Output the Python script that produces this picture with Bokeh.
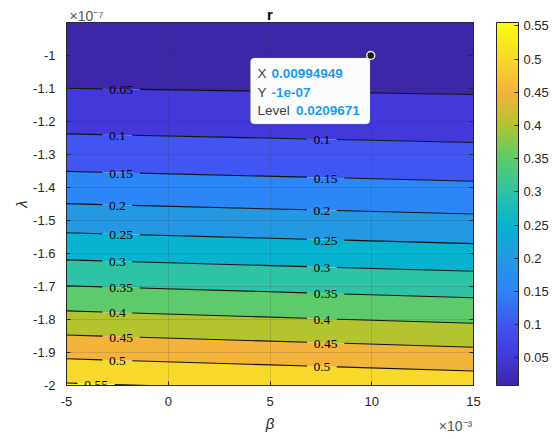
import numpy as np
from bokeh.plotting import figure
from bokeh.plotting.contour import contour_data
from bokeh.models import (ColorBar, LinearColorMapper, FixedTicker, LinearAxis, Range1d,
                          Label, LabelSet, BoxAnnotation, ColumnDataSource)
from bokeh.embed import file_html
from bokeh.resources import INLINE

# ---------------- data ----------------
beta_e3 = [-5.0, 15.0]                       # beta in units of 1e-3
lambda_e7 = [-2.0, -1.9, -1.8, -1.7, -1.6, -1.5, -1.4, -1.3, -1.2, -1.1, -1.0, -0.9]  # lambda in 1e-7
r_at_beta_min = [0.555, 0.487, 0.4171, 0.3513, 0.2877, 0.2276, 0.1735, 0.1255, 0.0847, 0.0502, 0.025, 0.0115]
r_at_beta_max = [0.5306, 0.4611, 0.3923, 0.3282, 0.2671, 0.2101, 0.1586, 0.1136, 0.0764, 0.0442, 0.019, 0.0085]
levels = [0.05, 0.1, 0.15, 0.2, 0.25, 0.3, 0.35, 0.4, 0.45, 0.5, 0.55]
level_labels = ["0.05", "0.1", "0.15", "0.2", "0.25", "0.3", "0.35", "0.4", "0.45", "0.5", "0.55"]
x_ticks = [-5, 0, 5, 10, 15]
x_tick_labels = ["-5", "0", "5", "10", "15"]
y_ticks = [-2.0, -1.9, -1.8, -1.7, -1.6, -1.5, -1.4, -1.3, -1.2, -1.1, -1.0]
y_tick_labels = ["-2", "-1.9", "-1.8", "-1.7", "-1.6", "-1.5", "-1.4", "-1.3", "-1.2", "-1.1", "-1"]
cbar_tick_labels = level_labels
title_text = "r"
x_exponent_text = "×10⁻³"
y_exponent_text = "×10⁻⁷"
tip_x_text, tip_y_text, tip_level_text = "0.00994949", "-1e-07", "0.0209671"
tip_beta_e3, tip_lambda_e7 = 9.94949, -1.0

# ---------------- style ----------------
FONT = "Liberation Sans"
AX = "#262626"
band_colors = ["#3e26a8", "#4338da", "#4155f2", "#2c86f7", "#2498e3", "#07b3cf",
               "#2ec3a4", "#5dca6c", "#b4c42f", "#f4b33b", "#f8d82a", "#f9f91a"]
anchor_pos = [0.0, 0.076, 0.168, 0.26, 0.35, 0.44, 0.535, 0.627, 0.72, 0.81, 0.90, 1.0]
anchor_col = band_colors[:-1] + ["#f9fb15"]

def hex2rgb(h):
    return [int(h[i:i + 2], 16) for i in (1, 3, 5)]

rgb = np.array([hex2rgb(c) for c in anchor_col], dtype=float)
tpos = np.linspace(0, 1, 256)
palette = ["#%02x%02x%02x" % tuple(int(round(np.interp(t, anchor_pos, rgb[:, k]))) for k in range(3)) for t in tpos]

W, H = 560, 439
FL, FT, FR, FB = 66, 22, 473, 385
x0, x1 = -5.0, 15.0
y0, y1 = -2.0, -0.9
sx = (FR - FL) / (x1 - x0)
sy = (FB - FT) / (y1 - y0)

def px2x(px):
    return x0 + (px - FL) / sx

def py2y(py):
    return y1 - (py - FT) / sy

p = figure(width=W, height=H, x_range=Range1d(x0, x1), y_range=Range1d(y0, y1),
           output_backend="svg", toolbar_location=None,
           min_border_left=FL, min_border_top=FT, min_border_right=W - FR, min_border_bottom=H - FB)
p.outline_line_color = AX
p.outline_line_width = 1
p.background_fill_color = "white"
p.border_fill_color = "white"

Z = np.column_stack([r_at_beta_min, r_at_beta_max])

# filled bands
fill_levels = [0.0] + levels + [1.0]
p.contour(beta_e3, lambda_e7, Z, levels=fill_levels, fill_color=band_colors, line_color=None)

# contour lines with gaps for labels
cd = contour_data(x=beta_e3, y=lambda_e7, z=Z, levels=levels, want_fill=False, want_line=True)
line_xs, line_ys = cd.line_data.xs, cd.line_data.ys

LFS = 13.5

def text_w(s, fs=LFS):
    return sum((0.278 if ch == "." else 0.556) for ch in s) * fs

gap_starts_px = {lab: [36, 240.5] for lab in level_labels}
gap_starts_px["0.05"] = [36]
gap_starts_px["0.55"] = [11]

seg_xs, seg_ys = [], []
lab_x, lab_y, lab_t = [], [], []
for i, lab in enumerate(level_labels):
    xs = np.asarray(line_xs[i], dtype=float)
    ys = np.asarray(line_ys[i], dtype=float)
    ok = ~np.isnan(xs)
    xs, ys = xs[ok], ys[ok]
    if len(xs) < 2:
        continue
    o = np.argsort(xs)
    xs, ys = xs[o], ys[o]
    gw = (text_w(lab) + 11) / sx
    gaps = []
    for g in gap_starts_px[lab]:
        a = x0 + g / sx
        gaps.append((a, a + gw))
        cx = a + gw / 2
        lab_x.append(cx)
        lab_y.append(float(np.interp(cx, xs, ys)))
        lab_t.append(lab)
    cur = xs[0]
    bounds = []
    for a, b in gaps:
        bounds.append((cur, a))
        cur = b
    bounds.append((cur, xs[-1]))
    for a, b in bounds:
        if b <= a:
            continue
        inner = xs[(xs > a) & (xs < b)]
        sxs = np.concatenate([[a], inner, [b]])
        seg_xs.append(list(sxs))
        seg_ys.append(list(np.interp(sxs, xs, ys)))

p.multi_line(seg_xs, seg_ys, line_color="#111111", line_width=1.1)

lsrc = ColumnDataSource(dict(x=lab_x, y=lab_y, t=lab_t))
p.add_layout(LabelSet(x="x", y="y", text="t", source=lsrc, text_align="center",
                      text_baseline="middle", text_font=FONT, text_font_size="%gpx" % LFS,
                      text_color="#000000", y_offset=-1))

# axes
for ax in (p.xaxis[0], p.yaxis[0]):
    ax.axis_line_color = AX
    ax.major_tick_line_color = AX
    ax.major_tick_in = 4
    ax.major_tick_out = 0
    ax.minor_tick_line_color = None
    ax.major_label_text_font = FONT
    ax.major_label_text_font_size = "13px"
    ax.major_label_text_color = AX
    ax.axis_label_text_font = FONT
    ax.axis_label_text_font_size = "15px"
    ax.axis_label_text_color = AX
p.xaxis.ticker = FixedTicker(ticks=x_ticks)
p.xaxis.major_label_overrides = {t: l for t, l in zip(x_ticks, x_tick_labels)}
p.yaxis.ticker = FixedTicker(ticks=y_ticks)
p.yaxis.major_label_overrides = {t: l for t, l in zip(y_ticks, y_tick_labels)}
p.xaxis.axis_label = "β"
p.yaxis.axis_label = "λ"
p.xaxis.major_label_standoff = 11
p.yaxis.major_label_standoff = 11
p.xaxis.axis_label_standoff = 6
p.yaxis.axis_label_standoff = 0

p.xgrid.ticker = FixedTicker(ticks=x_ticks)
p.ygrid.ticker = FixedTicker(ticks=y_ticks)
p.grid.grid_line_color = AX
p.grid.grid_line_alpha = 0.15
p.grid.grid_line_width = 1
p.grid.level = "guide"

# right axis: ticks only (box on); its blank labels + standoff make the gap before the colour bar
rax = LinearAxis(ticker=FixedTicker(ticks=y_ticks), major_label_overrides={t: "\u00a0" for t in y_ticks},
                 major_label_standoff=16, major_tick_in=4, major_tick_out=0,
                 major_label_text_font_size="13px",
                 axis_line_color=AX, major_tick_line_color=AX, minor_tick_line_color=None)
p.add_layout(rax, "right")

# top axis carries the y exponent as a tick label and the title as its axis label
ex_y_center_px = 86
tax = LinearAxis(ticker=FixedTicker(ticks=[px2x(ex_y_center_px)]),
                 major_label_overrides={px2x(ex_y_center_px): y_exponent_text},
                 major_label_standoff=-1, major_tick_in=0, major_tick_out=0,
                 axis_line_color=None, major_tick_line_color=None, minor_tick_line_color=None,
                 major_label_text_font=FONT, major_label_text_font_size="14px",
                 major_label_text_color="#555555",
                 axis_label=title_text, axis_label_standoff=-18,
                 axis_label_text_font=FONT, axis_label_text_font_size="15px",
                 axis_label_text_font_style="bold", axis_label_text_color="black")
p.add_layout(tax, "above")

# second bottom axis carries the x exponent
ex_x_center_px = 455
bax = LinearAxis(ticker=FixedTicker(ticks=[px2x(ex_x_center_px)]),
                 major_label_overrides={px2x(ex_x_center_px): x_exponent_text},
                 major_label_standoff=-17, major_tick_in=0, major_tick_out=0,
                 axis_line_color=None, major_tick_line_color=None, minor_tick_line_color=None,
                 major_label_text_font=FONT, major_label_text_font_size="14px",
                 major_label_text_color="#555555")
p.add_layout(bax, "below")

mapper = LinearColorMapper(palette=palette, low=float(Z.min()), high=float(Z.max()))
cb = ColorBar(color_mapper=mapper, width=22, padding=0, margin=0,
              ticker=FixedTicker(ticks=levels),
              major_label_overrides={t: l for t, l in zip(levels, cbar_tick_labels)},
              major_label_text_font=FONT, major_label_text_font_size="13px",
              major_label_text_color=AX, label_standoff=5,
              major_tick_in=4, major_tick_out=0, major_tick_line_color=AX,
              minor_tick_line_color=None, bar_line_color=AX, border_line_color=None,
              background_fill_color=None)
p.add_layout(cb, "right")

# datatip
p.add_layout(BoxAnnotation(left=px2x(250), right=px2x(369.5), top=py2y(57.5), bottom=py2y(123.5),
                           fill_color="#fcfcfd", fill_alpha=1.0, line_color="#a8a8a8",
                           line_width=1, border_radius=4))
rows = [("X", tip_x_text, 73), ("Y", tip_y_text, 91.5), ("Level", tip_level_text, 110)]
for key, val, cy in rows:
    p.add_layout(Label(x=px2x(257), y=py2y(cy), text=key, text_font=FONT, text_font_size="13.5px",
                       text_baseline="middle", text_color="#404040"))
    kw = 14 if key != "Level" else 38.5
    p.add_layout(Label(x=px2x(257 + kw), y=py2y(cy), text=val, text_font=FONT, text_font_size="13.5px",
                       text_font_style="bold", text_baseline="middle", text_color="#1a9bf2"))
p.scatter([tip_beta_e3], [tip_lambda_e7], size=8, fill_color="#1a1a1a", line_color="#f4f4d8",
          line_width=1.5)

open("out.html", "w").write(file_html(p, INLINE))
